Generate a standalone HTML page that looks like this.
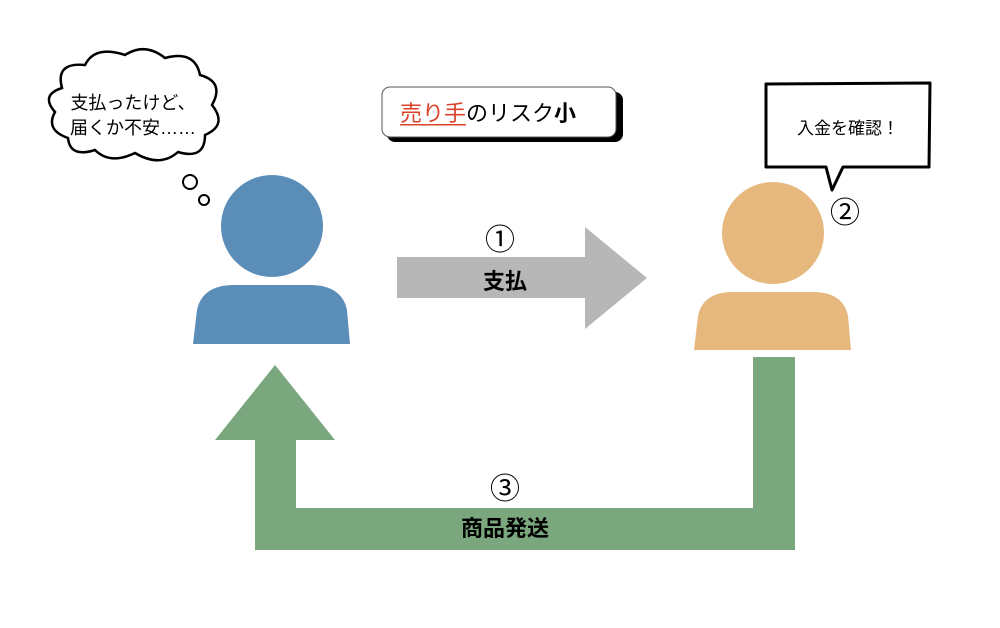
<!DOCTYPE html>
<html><head><meta charset="utf-8"><style>
body{margin:0;background:#fff;}
svg{display:block}
text{font-family:"Liberation Sans","Noto Sans CJK JP",sans-serif;}
</style></head><body>
<svg width="1000" height="628" viewBox="0 0 1000 628" xmlns="http://www.w3.org/2000/svg">
<rect width="1000" height="628" fill="#fff"/>
<circle cx="272" cy="226" r="51" fill="#5b8db9"/>
<path d="M193 344 L197 310 Q202 286 232 285 L312 285 Q342 286 347 310 L350 344 Z" fill="#5b8db9"/>
<circle cx="773" cy="233" r="51" fill="#e6b87e"/>
<path d="M694 350 L698 316 Q703 292 733 292 L813 292 Q843 292 848 316 L851 350 Z" fill="#e6b87e"/>
<path d="M397 257 L585 257 L585 227 L647 278 L585 329 L585 298 L397 298 Z" fill="#b7b7b7"/>
<text x="500" y="250" font-size="30" text-anchor="middle">①</text>
<text x="505" y="289" font-size="22" font-weight="bold" text-anchor="middle">支払</text>
<path d="M753 357 L795 357 L795 550 L255 550 L255 440 L215 440 L275 365 L335 440 L296 440 L296 508 L753 508 Z" fill="#7aa77e"/>
<text x="505" y="499" font-size="30" text-anchor="middle">③</text>
<text x="505" y="536" font-size="22" font-weight="bold" text-anchor="middle">商品発送</text>
<path d="M62 88 Q55 62 85 65 Q95 45 125 55 Q145 42 165 58 Q195 50 200 75 Q225 82 212 105 Q228 125 205 135 Q205 160 178 152 Q160 168 135 153 Q110 165 95 150 Q70 158 68 138 Q45 130 55 112 Q40 95 62 88 Z" fill="#fff" stroke="#000" stroke-width="2.5"/>
<text x="133" y="109" font-size="18" text-anchor="middle">支払ったけど、</text>
<text x="133" y="134" font-size="18" text-anchor="middle">届くか不安……</text>
<circle cx="190" cy="182" r="7" fill="#fff" stroke="#000" stroke-width="2"/>
<circle cx="204" cy="200" r="5" fill="#fff" stroke="#000" stroke-width="2"/>
<rect x="387" y="92" width="236" height="50" rx="8" fill="#000"/>
<rect x="382" y="87" width="234" height="50" rx="8" fill="#fff" stroke="#555" stroke-width="1"/>
<text x="400" y="121" font-size="22"><tspan fill="#d8432a">売り手</tspan><tspan fill="#000">のリスク</tspan><tspan font-weight="bold">小</tspan></text>
<rect x="400" y="124" width="66" height="1.5" fill="#d8432a"/>
<path d="M766 84 L930 83 L929 167 L843 167 L832 190 L826 167 L766 167 Z" fill="#fff" stroke="#000" stroke-width="3" stroke-linejoin="round"/>
<text x="848" y="134" font-size="17" text-anchor="middle">入金を確認！</text>
<text x="845" y="223" font-size="30" text-anchor="middle">②</text>
</svg>
</body></html>
